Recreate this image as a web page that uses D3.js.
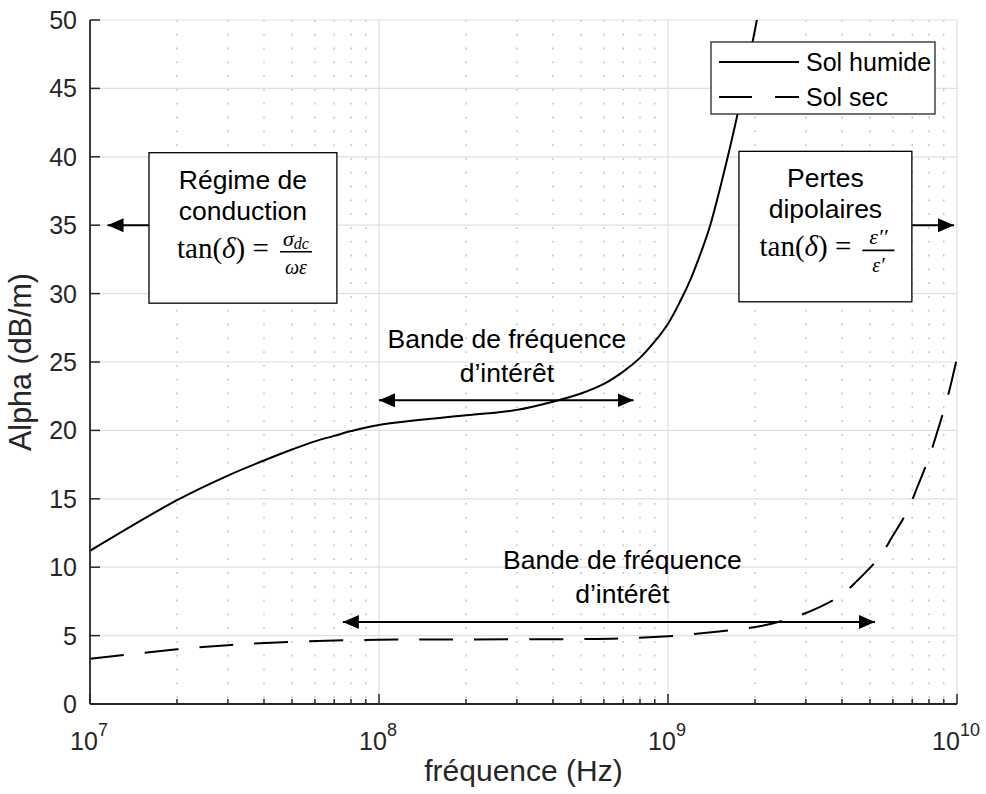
<!DOCTYPE html>
<html>
<head>
<meta charset="utf-8">
<script src="https://cdn.jsdelivr.net/npm/d3@7"></script>
<style>
  body { margin: 0; background: #fff; }
  svg { display: block; font-family: "Liberation Sans", Arial, sans-serif; }
</style>
</head>
<body>
<svg width="986" height="794"></svg>
<script>
// Data (frequency in Hz, alpha in dB/m)
const humideFreq = [1e7, 2e7, 3e7, 4e7, 5e7, 6e7, 7e7, 8e7, 1e8, 2e8, 3e8, 4e8, 5e8, 6e8, 7e8, 8e8, 9e8, 1e9, 1.1e9, 1.2e9, 1.31e9, 1.4e9, 1.61e9, 1.82e9, 2.03e9, 2.2e9];
const humideAlpha = [11.2, 14.9, 16.7, 17.8, 18.6, 19.2, 19.6, 19.95, 20.4, 21.1, 21.5, 22.1, 22.7, 23.4, 24.3, 25.3, 26.5, 27.8, 29.4, 31.1, 33.2, 35, 40, 45, 50, 54];
const secFreq = [1e7, 2e7, 3e7, 5e7, 1e8, 2e8, 5e8, 7e8, 1e9, 1.5e9, 2.1e9, 2.7e9, 3.36e9, 4.0e9, 4.51e9, 5.42e9, 5.96e9, 6.77e9, 7.27e9, 8.0e9, 8.46e9, 9.16e9, 9.53e9, 1e10];
const secAlpha = [3.3, 4.0, 4.3, 4.55, 4.7, 4.72, 4.75, 4.8, 4.95, 5.3, 5.7, 6.3, 7.1, 8.0, 9.0, 10.8, 12.2, 14.2, 15.8, 18.0, 19.6, 22.0, 23.4, 25.3];

const seriesNames = ["Sol humide", "Sol sec"];
const yTicks = d3.range(0, 51, 5);
const xMajor = [1e7, 1e8, 1e9, 1e10];
const xExponents = [7, 8, 9, 10];

const width = 986, height = 794;
const margin = {left: 90, right: 29, top: 20, bottom: 90};
const svg = d3.select("svg");
const ink = "#262626";

const x = d3.scaleLog().domain([1e7, 1e10]).range([margin.left, width - margin.right]);
const y = d3.scaleLinear().domain([0, 50]).range([height - margin.bottom, margin.top]);

// minor decade ticks 2..9
const xMinor = [];
xMajor.slice(0, 3).forEach(d => { for (let k = 2; k <= 9; k++) xMinor.push(d * k); });

// grid
const grid = svg.append("g");
grid.selectAll(".minor").data(xMinor).enter().append("line")
  .attr("x1", d => x(d)).attr("x2", d => x(d))
  .attr("y1", y(50)).attr("y2", y(0))
  .attr("stroke", "#b8b8b8").attr("stroke-width", 1.3)
  .attr("stroke-dasharray", "1.8,12");
grid.selectAll(".majx").data(xMajor).enter().append("line")
  .attr("x1", d => x(d)).attr("x2", d => x(d))
  .attr("y1", y(50)).attr("y2", y(0))
  .attr("stroke", "#dfdfdf").attr("stroke-width", 1.2);
grid.selectAll(".majy").data(yTicks).enter().append("line")
  .attr("x1", x(1e7)).attr("x2", x(1e10))
  .attr("y1", d => y(d)).attr("y2", d => y(d))
  .attr("stroke", "#dfdfdf").attr("stroke-width", 1.2);

// clip
svg.append("clipPath").attr("id", "clip").append("rect")
  .attr("x", x(1e7)).attr("y", y(50)).attr("width", x(1e10) - x(1e7)).attr("height", y(0) - y(50));

const line = d3.line().x(d => x(d[0])).y(d => y(d[1])).curve(d3.curveCatmullRom.alpha(0.5));

svg.append("path")
  .datum(d3.zip(humideFreq, humideAlpha))
  .attr("clip-path", "url(#clip)")
  .attr("d", line).attr("fill", "none").attr("stroke", "#000").attr("stroke-width", 2);

svg.append("path")
  .datum(d3.zip(secFreq, secAlpha))
  .attr("clip-path", "url(#clip)")
  .attr("d", line).attr("fill", "none").attr("stroke", "#000").attr("stroke-width", 2)
  .attr("stroke-dasharray", "34,21");

// axes
const axisG = svg.append("g").attr("stroke", ink);
axisG.append("line").attr("x1", x(1e7)).attr("x2", x(1e7)).attr("y1", y(50)).attr("y2", y(0)).attr("stroke-width", 1.8);
axisG.append("line").attr("x1", x(1e7)).attr("x2", x(1e10)).attr("y1", y(0)).attr("y2", y(0)).attr("stroke-width", 1.8);
axisG.selectAll(".yt").data(yTicks).enter().append("line")
  .attr("x1", x(1e7)).attr("x2", x(1e7) + 10)
  .attr("y1", d => y(d)).attr("y2", d => y(d)).attr("stroke-width", 1.5);
axisG.selectAll(".xt").data(xMajor).enter().append("line")
  .attr("x1", d => x(d)).attr("x2", d => x(d))
  .attr("y1", y(0)).attr("y2", y(0) - 10).attr("stroke-width", 1.5);
axisG.selectAll(".xm").data(xMinor).enter().append("line")
  .attr("x1", d => x(d)).attr("x2", d => x(d))
  .attr("y1", y(0)).attr("y2", y(0) - 5).attr("stroke-width", 1.5);

svg.selectAll(".ytl").data(yTicks).enter().append("text")
  .attr("x", x(1e7) - 13).attr("y", d => y(d) + 9)
  .attr("text-anchor", "end").attr("font-size", 25).attr("fill", ink)
  .text(d => d);

const xtl = svg.selectAll(".xtl").data(xMajor).enter().append("text")
  .attr("x", d => x(d) - 1).attr("y", y(0) + 46)
  .attr("text-anchor", "middle").attr("font-size", 25).attr("fill", ink);
xtl.append("tspan").text("10");
xtl.append("tspan").attr("dy", -14).attr("font-size", 18).text((d, i) => xExponents[i]);

svg.append("text").attr("x", (x(1e7) + x(1e10)) / 2).attr("y", 781)
  .attr("text-anchor", "middle").attr("font-size", 30).attr("fill", ink)
  .text("fréquence (Hz)");
svg.append("text").attr("transform", `translate(31,${(y(0) + y(50)) / 2}) rotate(-90)`)
  .attr("text-anchor", "middle").attr("font-size", 30.5).attr("fill", ink)
  .text("Alpha (dB/m)");

// arrow markers
const defs = svg.append("defs");
defs.append("marker").attr("id", "ah").attr("markerUnits", "userSpaceOnUse")
  .attr("markerWidth", 18).attr("markerHeight", 16).attr("refX", 16).attr("refY", 7)
  .attr("orient", "auto-start-reverse")
  .append("path").attr("d", "M0,0 L16,7 L0,14 Z").attr("fill", "#000");

function arrow(f0, f1, v, both) {
  const l = svg.append("line").attr("x1", x(f0)).attr("x2", x(f1)).attr("y1", y(v)).attr("y2", y(v))
    .attr("stroke", "#000").attr("stroke-width", 2).attr("marker-end", "url(#ah)");
  if (both) l.attr("marker-start", "url(#ah)");
}

// interest bands
arrow(1e8, 7.6e8, 22.2, true);
arrow(7.5e7, 5.2e9, 6.0, true);

function bandLabel(cx, v) {
  const t = svg.append("text").attr("x", x(cx)).attr("y", y(v)).attr("text-anchor", "middle")
    .attr("font-size", 26.5).attr("fill", "#000");
  t.append("tspan").attr("x", x(cx)).text("Bande de fréquence");
  t.append("tspan").attr("x", x(cx)).attr("dy", 34).text("d’intérêt");
}
bandLabel(2.77e8, 26.0);
bandLabel(6.95e8, 9.9);

// regime boxes
function regimeBox(f0, f1, vTop, vBot, lines, num, den, arrowTo) {
  const x0 = x(f0), x1 = x(f1), y0 = y(vTop), y1 = y(vBot);
  if (arrowTo < f0) arrow(f0, arrowTo, 35, false); else arrow(f1, arrowTo, 35, false);
  svg.append("rect").attr("x", x0).attr("y", y0).attr("width", x1 - x0).attr("height", y1 - y0)
    .attr("fill", "#fff").attr("stroke", "#000").attr("stroke-width", 1.3);
  const cx = (x0 + x1) / 2;
  lines.forEach((s, i) => svg.append("text").attr("x", cx).attr("y", y0 + 36 + i * 31)
    .attr("text-anchor", "middle").attr("font-size", 26.5).text(s));
  const my = y0 + 105;
  const eq = svg.append("text").attr("x", cx - 20).attr("y", my).attr("text-anchor", "middle")
    .attr("font-family", "'Liberation Serif', serif").attr("font-size", 29);
  eq.append("tspan").text("tan(");
  eq.append("tspan").attr("font-style", "italic").text("δ");
  eq.append("tspan").text(") = ");
  const fx = cx + 53;
  svg.append("line").attr("x1", fx - 16).attr("x2", fx + 16).attr("y1", my - 6).attr("y2", my - 6)
    .attr("stroke", "#000").attr("stroke-width", 1.6);
  const nt = svg.append("text").attr("x", fx).attr("y", my - 12).attr("text-anchor", "middle")
    .attr("font-family", "'Liberation Serif', serif").attr("font-style", "italic").attr("font-size", 22);
  nt.append("tspan").text(num[0]);
  if (num[1]) nt.append("tspan").attr("font-size", 16).attr("dy", 3).text(num[1]);
  svg.append("text").attr("x", fx).attr("y", my + 16).attr("text-anchor", "middle")
    .attr("font-family", "'Liberation Serif', serif").attr("font-style", "italic").attr("font-size", 20).text(den);
}
regimeBox(1.6e7, 7.15e7, 40.3, 29.3, ["Régime de", "conduction"], ["σ", "dc"], "ωε", 1.15e7);
regimeBox(1.76e9, 6.98e9, 40.4, 29.4, ["Pertes", "dipolaires"], ["ε′′"], "ε′", 9.76e9);

// legend
const lg = svg.append("g").attr("transform", "translate(711,42)");
lg.append("rect").attr("width", 224).attr("height", 72).attr("fill", "#fff").attr("stroke", ink).attr("stroke-width", 1.3);
seriesNames.forEach((name, i) => {
  const ly = 20 + i * 35;
  lg.append("line").attr("x1", 8).attr("x2", 88).attr("y1", ly).attr("y2", ly)
    .attr("stroke", "#000").attr("stroke-width", 2)
    .attr("stroke-dasharray", i === 1 ? "33,23" : null);
  lg.append("text").attr("x", 95).attr("y", ly + 9).attr("font-size", 25).attr("fill", "#000").text(name);
});
</script>
</body>
</html>
